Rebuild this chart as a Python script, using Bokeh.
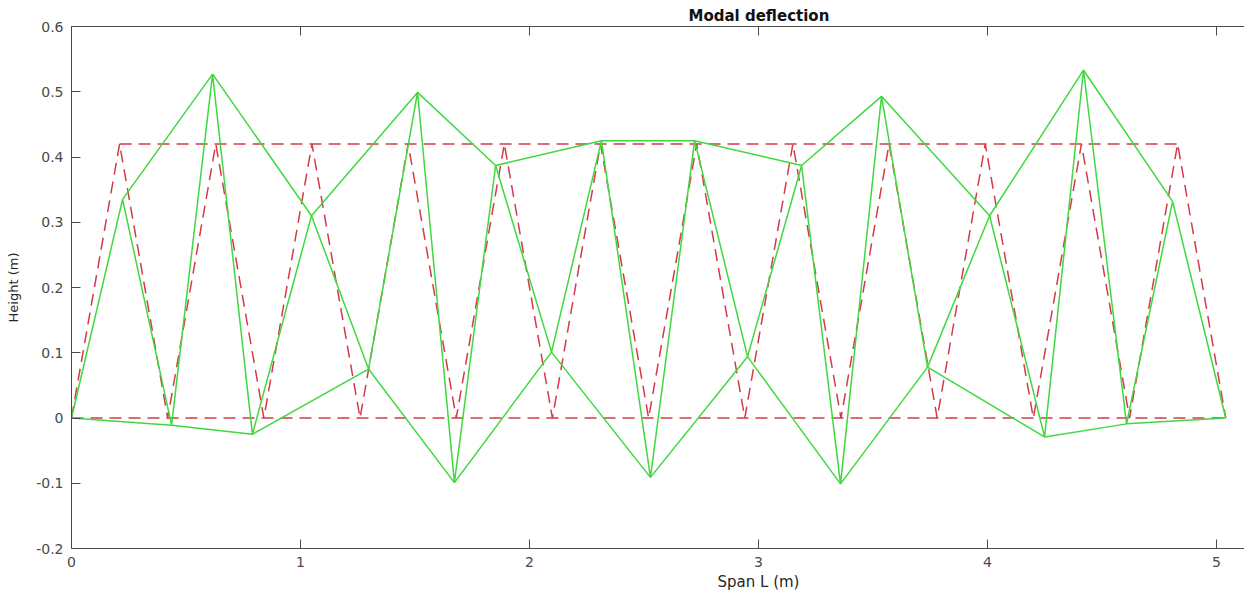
from bokeh.plotting import figure
from bokeh.models import LinearAxis, FixedTicker, Title, Range1d
from bokeh.embed import file_html
from bokeh.resources import INLINE

# Undeformed truss geometry (m)
bottom_x = [0.0, 0.42, 0.84, 1.26, 1.68, 2.10, 2.52, 2.94, 3.36, 3.78, 4.20, 4.62, 5.04]
bottom_y = [0.0, 0.0, 0.0, 0.0, 0.0, 0.0, 0.0, 0.0, 0.0, 0.0, 0.0, 0.0, 0.0]
top_x = [0.21, 0.63, 1.05, 1.47, 1.89, 2.31, 2.73, 3.15, 3.57, 3.99, 4.41, 4.83]
top_y = [0.42, 0.42, 0.42, 0.42, 0.42, 0.42, 0.42, 0.42, 0.42, 0.42, 0.42, 0.42]

# Deformed (modal) truss geometry (m)
def_bottom_x = [0.0, 0.437, 0.790, 1.297, 1.672, 2.096, 2.528, 2.952, 3.358, 3.738, 4.249, 4.607, 5.04]
def_bottom_y = [0.0, -0.011, -0.025, 0.075, -0.099, 0.101, -0.091, 0.094, -0.101, 0.078, -0.029, -0.009, 0.0]
def_top_x = [0.223, 0.616, 1.048, 1.511, 1.852, 2.314, 2.721, 3.188, 3.537, 4.009, 4.419, 4.808]
def_top_y = [0.335, 0.527, 0.310, 0.499, 0.387, 0.425, 0.425, 0.387, 0.493, 0.310, 0.533, 0.332]

x_ticks = [0, 1, 2, 3, 4, 5]
y_ticks = [-0.2, -0.1, 0, 0.1, 0.2, 0.3, 0.4, 0.5, 0.6]
y_tick_labels = ["-0.2", "-0.1", "0", "0.1", "0.2", "0.3", "0.4", "0.5", "0.6"]


def zigzag(bx, by, tx, ty):
    xs, ys = [], []
    for i in range(len(tx)):
        xs += [bx[i], tx[i]]
        ys += [by[i], ty[i]]
    xs.append(bx[-1])
    ys.append(by[-1])
    return xs, ys


FONT = "DejaVu Sans"
AX = "#4a4a4a"

p = figure(width=1244, height=594, output_backend="svg", toolbar_location=None,
           x_range=Range1d(0, 5.122), y_range=Range1d(-0.2, 0.6),
           min_border_left=71, min_border_top=26, min_border_bottom=46, min_border_right=0)
p.background_fill_color = "white"
p.border_fill_color = "white"
p.outline_line_color = None
p.grid.visible = False

p.title.text = "Modal deflection"
p.title.align = "left"
p.title.offset = 617
p.title.text_font = FONT
p.title.text_font_size = "15px"
p.title.text_font_style = "bold"
p.title.text_color = "#111111"
p.title.standoff = 3

RED = "#d43a48"
GREEN = "#3fd83f"

# Undeformed (red dashed)
p.line(bottom_x, bottom_y, line_color=RED, line_width=1.5, line_dash="12 7")
p.line(top_x, top_y, line_color=RED, line_width=1.5, line_dash="12 7")
zx, zy = zigzag(bottom_x, bottom_y, top_x, top_y)
p.line(zx, zy, line_color=RED, line_width=1.5, line_dash="12 7")

# Deformed (green)
p.line(def_bottom_x, def_bottom_y, line_color=GREEN, line_width=1.5)
p.line(def_top_x, def_top_y, line_color=GREEN, line_width=1.5)
dzx, dzy = zigzag(def_bottom_x, def_bottom_y, def_top_x, def_top_y)
p.line(dzx, dzy, line_color=GREEN, line_width=1.5)

for ax in [p.xaxis[0], p.yaxis[0]]:
    ax.axis_line_color = AX
    ax.major_tick_line_color = AX
    ax.major_tick_in = 9
    ax.major_tick_out = 0
    ax.minor_tick_line_color = None
    ax.major_label_text_font = FONT
    ax.major_label_text_font_size = "14px"
    ax.major_label_text_color = AX
    ax.major_label_standoff = 8

p.xaxis.ticker = FixedTicker(ticks=x_ticks)
p.yaxis.ticker = FixedTicker(ticks=y_ticks)
p.yaxis.major_label_overrides = {t: l for t, l in zip(y_ticks, y_tick_labels)}
p.yaxis.axis_label = "Height (m)"
p.yaxis.axis_label_text_font = FONT
p.yaxis.axis_label_text_font_size = "13px"
p.yaxis.axis_label_text_font_style = "normal"
p.yaxis.axis_label_text_color = "#262626"
p.yaxis.axis_label_standoff = 12

# top box line with inward ticks (no labels)
top_axis = LinearAxis(ticker=FixedTicker(ticks=x_ticks),
                      major_label_overrides={t: "" for t in x_ticks},
                      major_label_standoff=0, major_tick_in=9, major_tick_out=0,
                      axis_line_color=AX, major_tick_line_color=AX, minor_tick_line_color=None)
p.add_layout(top_axis, "above")

xlabel = Title(text="Span L (m)", align="left", offset=646, text_font=FONT,
               text_font_size="15px", text_font_style="normal", text_color="#262626", standoff=2)
p.add_layout(xlabel, "below")

open("out.html", "w").write(file_html(p, INLINE))
